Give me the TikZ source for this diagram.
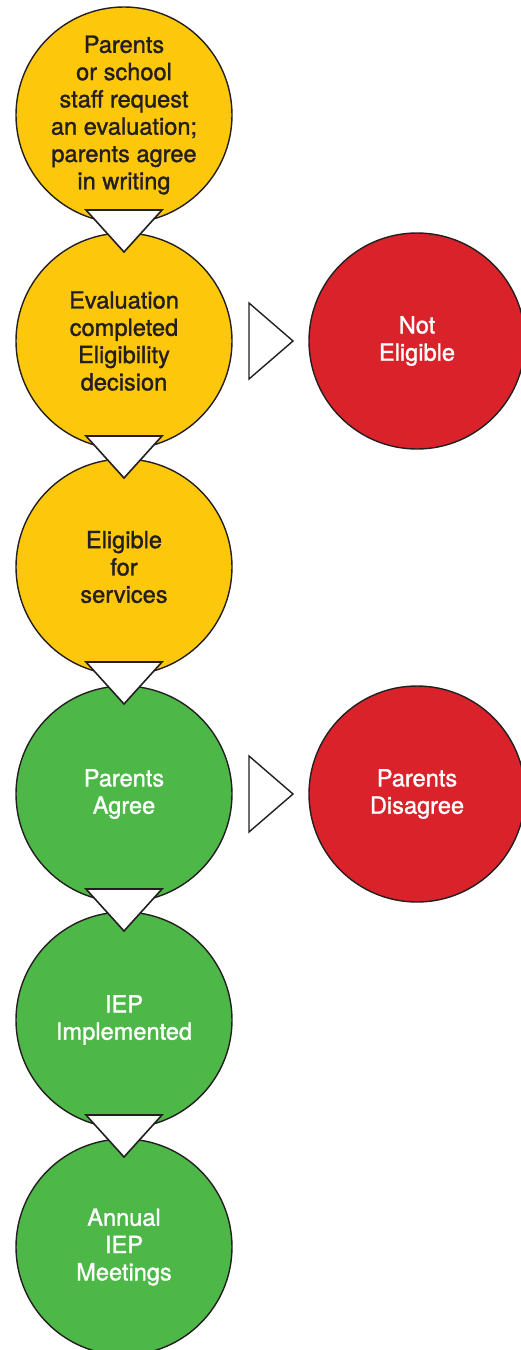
\documentclass[tikz,border=0pt]{standalone}
\usepackage{fontspec}
\setmainfont{TeX Gyre Heros}
\newfontfamily\stagefont{TeX Gyre Heros}[FakeBold=1.3]
\usetikzlibrary{calc}
\definecolor{cyellow}{HTML}{FDC70C}
\definecolor{cred}{HTML}{D9222A}
\definecolor{cgreen}{HTML}{4DB748}
\definecolor{ctext}{HTML}{231F20}
\begin{document}
\begin{tikzpicture}[x=1pt,y=-1pt,
  stage/.style={circle, minimum size=216pt, inner sep=0pt, draw=ctext, line width=1.4pt,
    align=center, font=\stagefont\fontsize{23.6}{27.3}\selectfont},
  yellowstage/.style={stage, fill=cyellow, text=ctext},
  greenstage/.style={stage, fill=cgreen, text=white},
  redstage/.style={stage, fill=cred, text=white},
  downarrow/.style={fill=white, draw=ctext, line width=1.6pt, line join=miter},
  rightarrow/.style={fill=white, draw=ctext, line width=1.4pt, line join=miter}]
\useasboundingbox (0,0) rectangle (520,1350);
\node[yellowstage] (c1) at (124,115) {Parents\\or school\\staff request\\an evaluation;\\parents agree\\in writing};
\node[yellowstage] (c2) at (124,341) {Evaluation\\completed\\Eligibility\\decision};
\node[yellowstage] (c3) at (124,567) {Eligible\\for\\services};
\node[greenstage] (c4) at (124,794) {Parents\\Agree};
\node[greenstage] (c5) at (124,1020) {IEP\\Implemented};
\node[greenstage] (c6) at (124,1247) {Annual\\IEP\\Meetings};
\node[redstage] (r1) at (417,341) {Not\\Eligible};
\node[redstage] (r2) at (417,794) {Parents\\Disagree};
% downward arrows between stages
\foreach \a in {c1,c2,c3,c4,c5}{
  \draw[downarrow] ($(\a.center)+(-38,95)$) -- ($(\a.center)+(38,95)$) -- ($(\a.center)+(0,137)$) -- cycle;
}
% sideways arrows
\foreach \a in {c2,c4}{
  \draw[rightarrow] ($(\a.center)+(125,-38)$) -- ($(\a.center)+(169,0)$) -- ($(\a.center)+(125,38)$) -- cycle;
}
\end{tikzpicture}
\end{document}
